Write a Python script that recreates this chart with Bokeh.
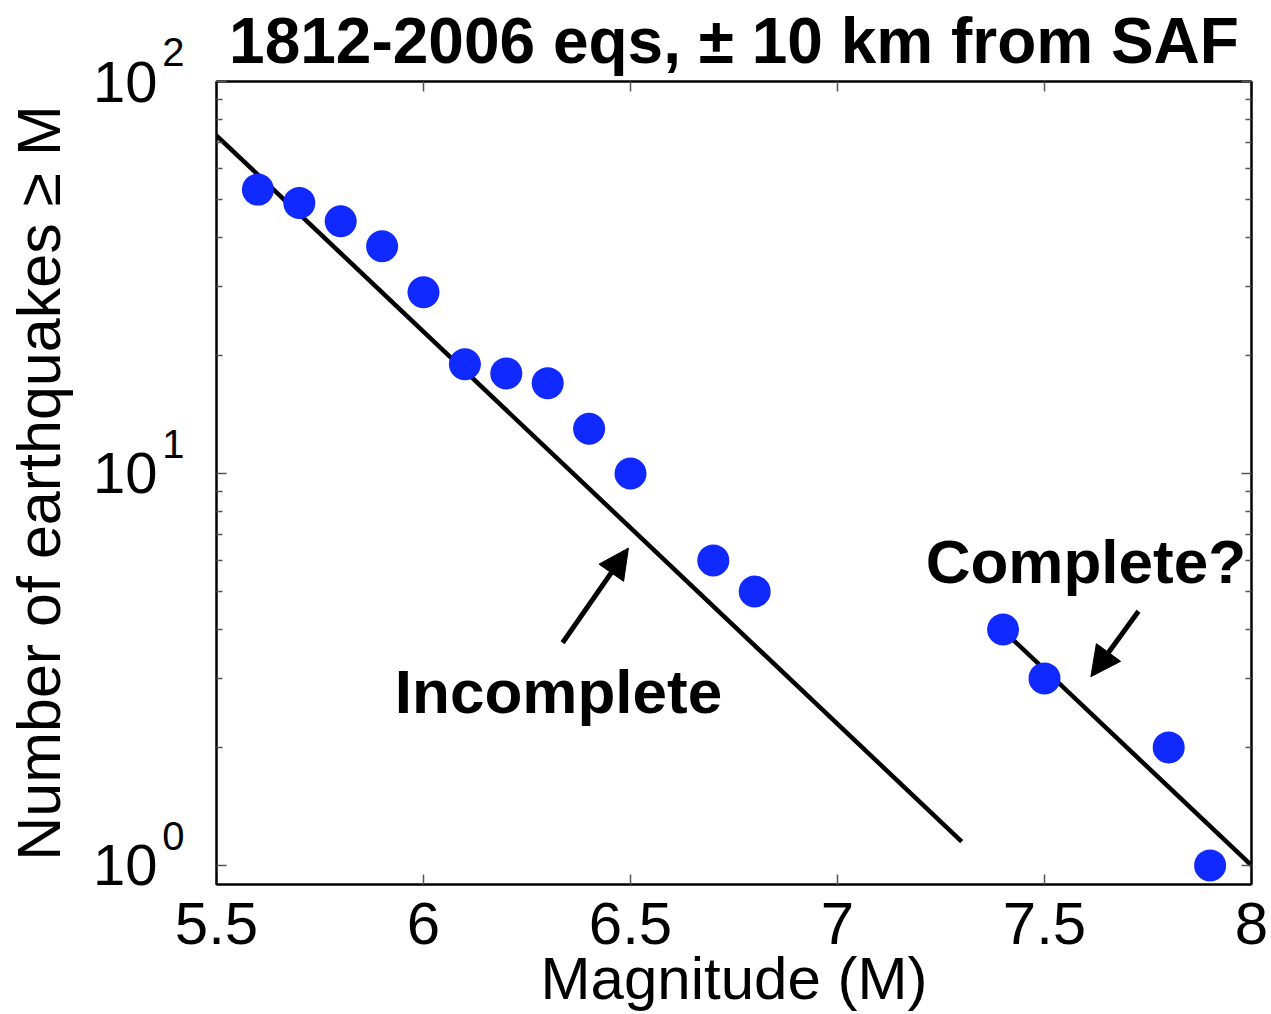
import math
from bokeh.plotting import figure
from bokeh.models import (Range1d, FixedTicker, LinearAxis, LogAxis, Label, Arrow,
                          NormalHead, ColumnDataSource)
from bokeh.embed import file_html
from bokeh.resources import INLINE

# ---- data ----
magnitudes = [5.6, 5.7, 5.8, 5.9, 6.0, 6.1, 6.2, 6.3, 6.4, 6.5, 6.7, 6.8, 7.4, 7.5, 7.8, 7.9]
counts = [53, 49, 44, 38, 29, 19, 18, 17, 13, 10, 6, 5, 4, 3, 2, 1]

incomplete_fit_m = [5.5, 7.3]
incomplete_fit_n = [72.8, 1.15]
complete_fit_m = [7.4, 8.0]
complete_fit_n = [3.98, 1.0]

x_ticks = [5.5, 6.0, 6.5, 7.0, 7.5, 8.0]
x_tick_labels = ["5.5", "6", "6.5", "7", "7.5", "8"]
y_ticks = [1, 10, 100]
y_tick_bases = ["10", "10", "10"]
y_tick_exponents = ["0", "1", "2"]
y_minor = [2, 3, 4, 5, 6, 7, 8, 9, 20, 30, 40, 50, 60, 70, 80, 90]

title_text = "1812-2006 eqs, \u00b1 10 km from SAF"
x_label = "Magnitude (M)"
y_label = "Number of earthquakes \u2265 M"

# annotation anchors (data coordinates)
incomplete_arrow = dict(x_start=6.336, y_start=3.7, x_end=6.495, y_end=6.45)
complete_arrow = dict(x_start=7.727, y_start=4.45, x_end=7.612, y_end=3.03)
incomplete_text = dict(x=6.326, y=2.78, text="Incomplete")
complete_text = dict(x=7.6, y=5.95, text="Complete?")

FONT = "Liberation Sans"
BLUE = "#1029FF"

p = figure(width=1271, height=1014, y_axis_type="log",
           x_range=Range1d(5.5, 8.0), y_range=Range1d(0.894, 100),
           output_backend="svg", toolbar_location=None,
           min_border_left=216, min_border_right=20, min_border_top=81,
           min_border_bottom=0, x_axis_location=None, y_axis_location=None)
p.grid.visible = False
p.outline_line_color = "black"
p.outline_line_width = 2
p.background_fill_color = "white"
p.border_fill_color = "white"

# title
p.title.text = title_text
p.title.align = "center"
p.title.vertical_align = "top"
p.title.text_font = FONT
p.title.text_font_size = "64px"
p.title.text_font_style = "bold"
p.title.text_color = "black"
p.title.standoff = 6

# bottom axis
xb = LinearAxis(ticker=FixedTicker(ticks=x_ticks),
                major_label_overrides={t: l for t, l in zip(x_ticks, x_tick_labels)})
xb.axis_label = x_label
xb.major_label_text_font = FONT
xb.major_label_text_font_size = "60px"
xb.major_label_text_color = "black"
xb.major_label_standoff = 18
xb.axis_label_text_font = FONT
xb.axis_label_text_font_size = "60px"
xb.axis_label_text_font_style = "normal"
xb.axis_label_text_color = "black"
xb.axis_label_standoff = -2
p.add_layout(xb, "below")

# left axis (inner): frame ticks + exponents, raised by a blank second line
ye = LogAxis(ticker=FixedTicker(ticks=y_ticks, minor_ticks=y_minor),
             major_label_overrides={t: e + "\n" for t, e in zip(y_ticks, y_tick_exponents)})
ye.major_label_text_font = FONT
ye.major_label_text_font_size = "40px"
ye.major_label_text_line_height = 1.35
ye.major_label_text_color = "black"
ye.major_label_standoff = 32
p.add_layout(ye, "left")

# left axis (outer): the "10" bases and the axis title
yl = LogAxis(ticker=FixedTicker(ticks=y_ticks),
             major_label_overrides={t: b for t, b in zip(y_ticks, y_tick_bases)})
yl.axis_label = y_label
yl.major_label_text_font = FONT
yl.major_label_text_font_size = "58px"
yl.major_label_text_color = "black"
yl.major_label_standoff = 2
yl.axis_label_text_font = FONT
yl.axis_label_text_font_size = "61px"
yl.axis_label_text_font_style = "normal"
yl.axis_label_text_color = "black"
yl.axis_label_standoff = 17
yl.axis_line_color = None
yl.major_tick_line_color = None
yl.minor_tick_line_color = None
yl.major_tick_in = 0
yl.major_tick_out = 0
yl.minor_tick_in = 0
yl.minor_tick_out = 0
p.add_layout(yl, "left")

# top / right axes (ticks only, labels not drawn)
xt = LinearAxis(ticker=FixedTicker(ticks=x_ticks))
yr = LogAxis(ticker=FixedTicker(ticks=y_ticks, minor_ticks=y_minor))
for ax in [xt, yr]:
    ax.major_label_text_font_size = "1px"
    ax.major_label_text_color = None
    ax.major_label_standoff = 0
    ax.axis_label_standoff = 0
p.add_layout(xt, "above")
p.add_layout(yr, "right")

for ax in [xb, ye, xt, yr]:
    ax.axis_line_color = "black"
    ax.axis_line_width = 2
    ax.major_tick_in = 10
    ax.major_tick_out = 0
    ax.minor_tick_in = 6
    ax.minor_tick_out = 0
    ax.major_tick_line_color = "#555555"
    ax.minor_tick_line_color = "#555555"
    ax.major_tick_line_width = 1.5
    ax.minor_tick_line_width = 1.5

# fit lines
p.line(incomplete_fit_m, incomplete_fit_n, line_color="black", line_width=4.5)
p.line(complete_fit_m, complete_fit_n, line_color="black", line_width=4.5)

# data points
src = ColumnDataSource(dict(m=magnitudes, n=counts))
p.scatter("m", "n", source=src, size=32, fill_color=BLUE, line_color=BLUE, line_width=0)

# annotations
for a in [incomplete_arrow, complete_arrow]:
    p.add_layout(Arrow(end=NormalHead(size=30, fill_color="black", line_color="black"),
                       line_color="black", line_width=5, **a))
for t in [incomplete_text, complete_text]:
    p.add_layout(Label(x=t["x"], y=t["y"], text=t["text"], text_align="center",
                       text_baseline="middle", text_font=FONT, text_font_size="62px",
                       text_font_style="bold", text_color="black"))

open("out.html", "w").write(file_html(p, INLINE))
